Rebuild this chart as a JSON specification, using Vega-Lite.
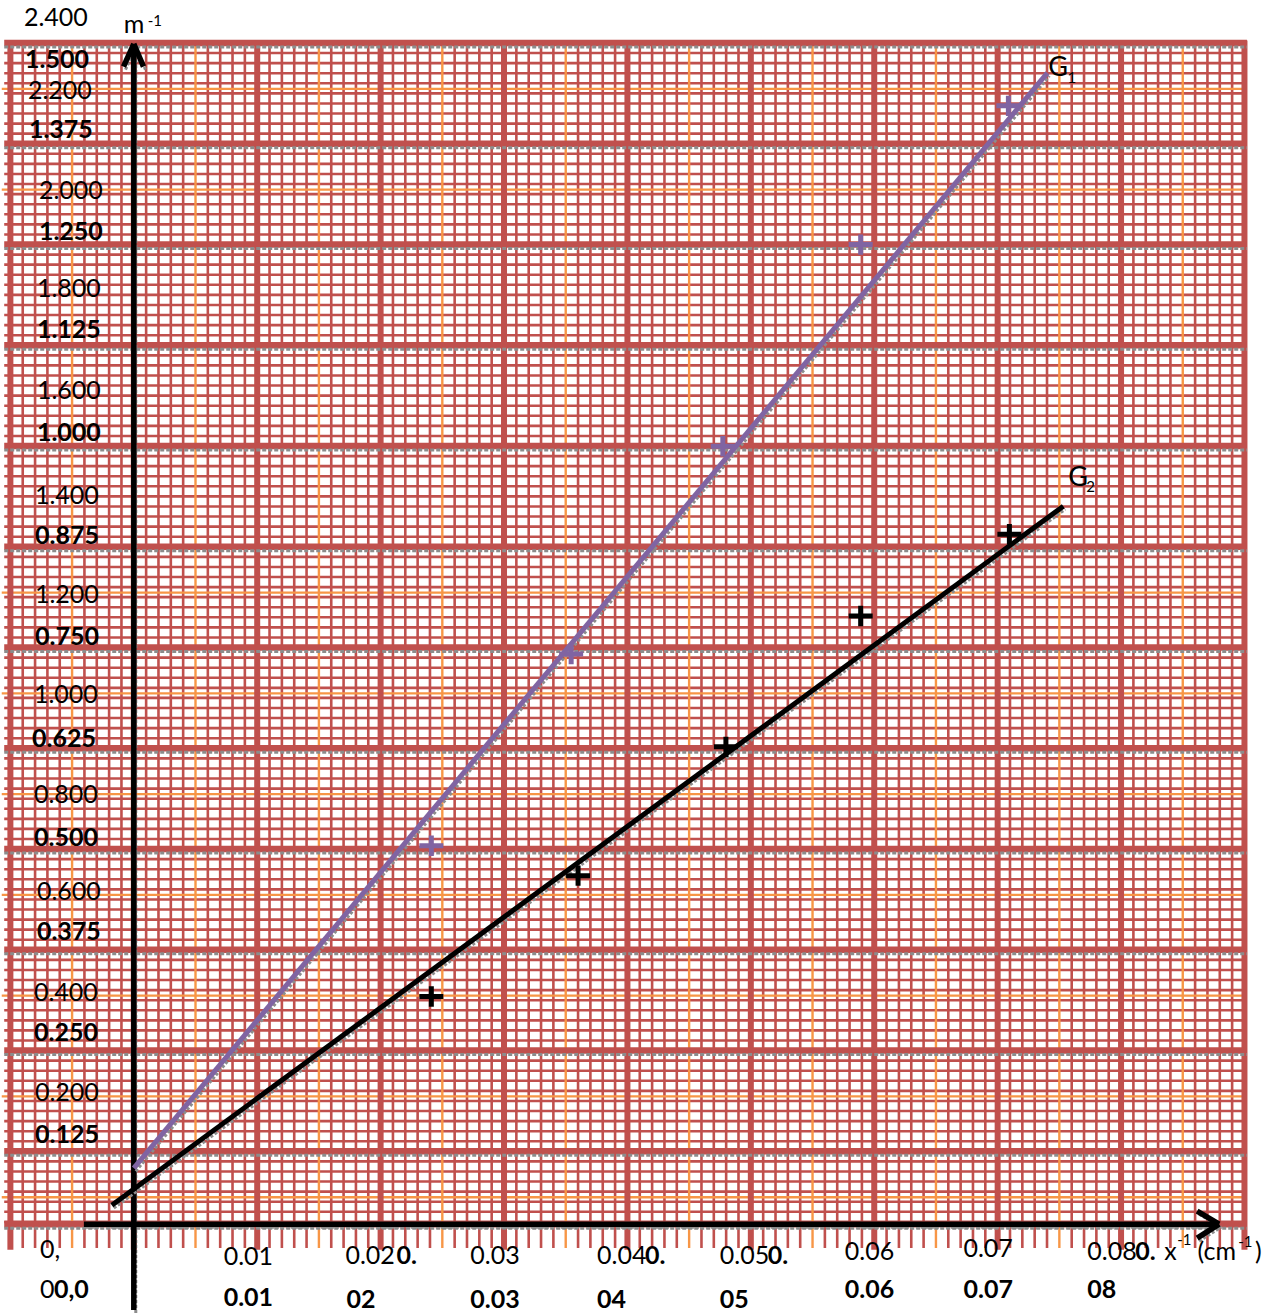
{
"$schema": "https://vega.github.io/schema/vega-lite/v6.json",
"width": 1288, "height": 1315,
"autosize": {"type": "fit", "contains": "padding"},
"padding": 0,
"background": "white",
"config": {"view": {"stroke": null}},
"datasets": {
"vf": [-0.009,-0.008,-0.007,-0.006,-0.004,-0.003,-0.002,-0.001,0.001,0.002,0.003,0.004,0.006,0.007,0.008,0.009,0.011,0.012,0.013,0.014,0.016,0.017,0.018,0.019,0.021,0.022,0.023,0.024,0.026,0.027,0.028,0.029,0.031,0.032,0.033,0.034,0.036,0.037,0.038,0.039,0.041,0.042,0.043,0.044,0.046,0.047,0.048,0.049,0.051,0.052,0.053,0.054,0.056,0.057,0.058,0.059,0.061,0.062,0.063,0.064,0.066,0.067,0.068,0.069,0.071,0.072,0.073,0.074,0.076,0.077,0.078,0.079,0.081,0.082,0.083,0.084,0.086,0.087,0.088,0.089],
"vo": [-0.005,0.005,0.015,0.025,0.035,0.045,0.055,0.065,0.075,0.085],
"vM": [-0.01,0,0.01,0.02,0.03,0.04,0.05,0.06,0.07,0.08,0.09],
"hf": [0.0375,0.05,0.0625,0.075,0.0875,0.1,0.1125,0.1375,0.15,0.1625,0.175,0.1875,0.2,0.2125,0.225,0.2375,0.2625,0.275,0.2875,0.3,0.3125,0.325,0.3375,0.35,0.3625,0.3875,0.4,0.4125,0.425,0.4375,0.45,0.4625,0.475,0.4875,0.5125,0.525,0.5375,0.55,0.5625,0.575,0.5875,0.6,0.6125,0.6375,0.65,0.6625,0.675,0.6875,0.7,0.7125,0.725,0.7375,0.7625,0.775,0.7875,0.8,0.8125,0.825,0.8375,0.85,0.8625,0.8875,0.9,0.9125,0.925,0.9375,0.95,0.9625,0.975,0.9875,1.0125,1.025,1.0375,1.05,1.0625,1.075,1.0875,1.1,1.1125,1.1375,1.15,1.1625,1.175,1.1875,1.2,1.2125,1.225,1.2375,1.2625,1.275,1.2875,1.3,1.3125,1.325,1.3375,1.35,1.3625,1.3875,1.4,1.4125,1.425,1.4375,1.45,1.4625,1.475,1.4875],
"ho": [0.06813,0.19313,0.31813,0.44313,0.56813,0.69313,0.81813,1.31813,1.44313],
"hM": [0.03468,0.125,0.25,0.375,0.5,0.625,0.75,0.875,1,1.125,1.25,1.375,1.5],
"axes": [
{"u": 0, "v": -0.0718, "u2": 0, "v2": 1.4988},
{"u": -0.000833, "v": 1.4707, "u2": 0, "v2": 1.4988},
{"u": 0.000785, "v": 1.4707, "u2": 0, "v2": 1.4988},
{"u": -0.004045, "v": 0.03468, "u2": 0.087945, "v2": 0.03468},
{"u": 0.086165, "v": 0.05079, "u2": 0.087945, "v2": 0.03468},
{"u": 0.086165, "v": 0.01734, "u2": 0.087945, "v2": 0.03468}
],
"glines": [
{"s": "G1", "u": 0.0, "v": 0.10405, "u2": 0.07403, "v2": 1.4629},
{"s": "G2", "u": -0.00178, "v": 0.05822, "u2": 0.07532, "v2": 0.92531}
],
"pts": [
{"s": "G1", "u": 0.02411, "v": 0.50415},
{"s": "G1", "u": 0.03544, "v": 0.74198},
{"s": "G1", "u": 0.04773, "v": 0.99963},
{"s": "G1", "u": 0.0589, "v": 1.24985},
{"s": "G1", "u": 0.07087, "v": 1.42203},
{"s": "G2", "u": 0.02411, "v": 0.31711},
{"s": "G2", "u": 0.036, "v": 0.46699},
{"s": "G2", "u": 0.04798, "v": 0.62678},
{"s": "G2", "u": 0.0589, "v": 0.78905},
{"s": "G2", "u": 0.07095, "v": 0.89063}
],
"tN": [
{"u": -0.0089, "v": 1.53103, "t": "2.400"},
{"u": -0.00858, "v": 1.44061, "t": "2.200"},
{"u": -0.00769, "v": 1.31674, "t": "2.000"},
{"u": -0.00785, "v": 1.19535, "t": "1.800"},
{"u": -0.00785, "v": 1.06776, "t": "1.600"},
{"u": -0.00801, "v": 0.9377, "t": "1.400"},
{"u": -0.00801, "v": 0.81507, "t": "1.200"},
{"u": -0.00809, "v": 0.69119, "t": "1.000"},
{"u": -0.00809, "v": 0.56733, "t": "0.800"},
{"u": -0.00785, "v": 0.44717, "t": "0.600"},
{"u": -0.00809, "v": 0.32083, "t": "0.400"},
{"u": -0.00801, "v": 0.19695, "t": "0.200"},
{"u": -0.00761, "v": 0.00248, "t": "0,"},
{"u": -0.00761, "v": -0.04707, "t": "0"},
{"u": 0.00728, "v": -0.00619, "t": "0.01"},
{"u": 0.01715, "v": -0.00495, "t": "0.02"},
{"u": 0.02727, "v": -0.00495, "t": "0.03"},
{"u": 0.03754, "v": -0.00495, "t": "0.04"},
{"u": 0.04749, "v": -0.00495, "t": "0.05"},
{"u": 0.05761, "v": 0, "t": "0.06"},
{"u": 0.06723, "v": 0.00372, "t": "0.07"},
{"u": 0.07727, "v": 0, "t": "0.08"},
{"u": 0.0835, "v": 0, "t": "x"},
{"u": 0.0862, "v": 0, "t": "(cm"},
{"u": 0.09086, "v": 0, "t": ")"},
{"u": -0.00081, "v": 1.52176, "t": "m"}
],
"tB": [
{"u": -0.00882, "v": 1.47901, "t": "1.500"},
{"u": -0.0085, "v": 1.3923, "t": "1.375"},
{"u": -0.00769, "v": 1.26595, "t": "1.250"},
{"u": -0.00785, "v": 1.14332, "t": "1.125"},
{"u": -0.00785, "v": 1.01573, "t": "1.000"},
{"u": -0.00801, "v": 0.88815, "t": "0.875"},
{"u": -0.00801, "v": 0.76304, "t": "0.750"},
{"u": -0.00825, "v": 0.63669, "t": "0.625"},
{"u": -0.00809, "v": 0.51406, "t": "0.500"},
{"u": -0.00785, "v": 0.39762, "t": "0.375"},
{"u": -0.00809, "v": 0.27128, "t": "0.250"},
{"u": -0.00801, "v": 0.14493, "t": "0.125"},
{"u": -0.00647, "v": -0.04707, "t": "0,0"},
{"u": 0.00728, "v": -0.05698, "t": "0.01"},
{"u": 0.02128, "v": -0.00495, "t": "0."},
{"u": 0.04143, "v": -0.00495, "t": "0."},
{"u": 0.05138, "v": -0.00495, "t": "0."},
{"u": 0.08115, "v": 0, "t": "0."},
{"u": 0.01723, "v": -0.05946, "t": "02"},
{"u": 0.02727, "v": -0.05946, "t": "0.03"},
{"u": 0.03754, "v": -0.05946, "t": "04"},
{"u": 0.04749, "v": -0.05946, "t": "05"},
{"u": 0.05761, "v": -0.04707, "t": "0.06"},
{"u": 0.06723, "v": -0.04707, "t": "0.07"},
{"u": 0.07727, "v": -0.04707, "t": "08"}
],
"tS": [
{"u": 0.00113, "v": 1.52732, "t": "-1"},
{"u": 0.08455, "v": 0.01486, "t": "-1"},
{"u": 0.0895, "v": 0.01239, "t": "-1"},
{"u": 0.07565, "v": 1.45671, "t": "1"},
{"u": 0.07718, "v": 0.94884, "t": "2"}
],
"tG": [
{"u": 0.07411, "v": 1.4691, "t": "G"},
{"u": 0.07573, "v": 0.96, "t": "G"}
]
},
"layer": [
{"data": {"name": "vf"}, "mark": {"type": "rule", "stroke": "#c0504d", "strokeWidth": 2.6},
 "encoding": {"x": {"field": "data", "type": "quantitative", "scale": {"domain": [-0.0106796, 0.0935275], "nice": false, "zero": false}, "axis": null},
  "y": {"datum": 1.5, "type": "quantitative", "scale": {"domain": [-0.07556, 1.553326], "nice": false, "zero": false}, "axis": null}, "y2": {"datum": 0.005}}},
{"data": {"name": "hf"}, "mark": {"type": "rule", "stroke": "#c0504d", "strokeWidth": 2.6},
 "encoding": {"y": {"field": "data", "type": "quantitative", "scale": {"domain": [-0.07556, 1.553326], "nice": false, "zero": false}, "axis": null},
  "x": {"datum": -0.0105, "type": "quantitative", "scale": {"domain": [-0.0106796, 0.0935275], "nice": false, "zero": false}, "axis": null}, "x2": {"datum": 0.09}}},
{"data": {"name": "vo"}, "mark": {"type": "rule", "stroke": "#f79646", "strokeWidth": 2.4},
 "encoding": {"x": {"field": "data", "type": "quantitative", "scale": {"domain": [-0.0106796, 0.0935275], "nice": false, "zero": false}, "axis": null},
  "y": {"datum": 1.5, "type": "quantitative", "scale": {"domain": [-0.07556, 1.553326], "nice": false, "zero": false}, "axis": null}, "y2": {"datum": 0.005}}},
{"data": {"name": "ho"}, "mark": {"type": "rule", "stroke": "#f79646", "strokeWidth": 2.4},
 "encoding": {"y": {"field": "data", "type": "quantitative", "scale": {"domain": [-0.07556, 1.553326], "nice": false, "zero": false}, "axis": null},
  "x": {"datum": -0.0107, "type": "quantitative", "scale": {"domain": [-0.0106796, 0.0935275], "nice": false, "zero": false}, "axis": null}, "x2": {"datum": 0.0899}}},
{"data": {"name": "vM"}, "mark": {"type": "rule", "stroke": "#c0504d", "strokeWidth": 6},
 "encoding": {"x": {"field": "data", "type": "quantitative", "scale": {"domain": [-0.0106796, 0.0935275], "nice": false, "zero": false}, "axis": null},
  "y": {"datum": 1.503, "type": "quantitative", "scale": {"domain": [-0.07556, 1.553326], "nice": false, "zero": false}, "axis": null}, "y2": {"datum": 0.003}}},
{"data": {"name": "hM"}, "mark": {"type": "rule", "stroke": "#c0504d", "strokeWidth": 6.5},
 "encoding": {"y": {"field": "data", "type": "quantitative", "scale": {"domain": [-0.07556, 1.553326], "nice": false, "zero": false}, "axis": null},
  "x": {"datum": -0.0105, "type": "quantitative", "scale": {"domain": [-0.0106796, 0.0935275], "nice": false, "zero": false}, "axis": null}, "x2": {"datum": 0.0902}}},
{"data": {"name": "hM"}, "mark": {"type": "rule", "stroke": "#8c8c8c", "strokeWidth": 3, "strokeDash": [4, 2], "yOffset": 4},
 "encoding": {"y": {"field": "data", "type": "quantitative", "scale": {"domain": [-0.07556, 1.553326], "nice": false, "zero": false}, "axis": null},
  "x": {"datum": -0.0105, "type": "quantitative", "scale": {"domain": [-0.0106796, 0.0935275], "nice": false, "zero": false}, "axis": null}, "x2": {"datum": 0.0902}}},
{"data": {"name": "axes"}, "mark": {"type": "rule", "stroke": "#8c8c8c", "strokeWidth": 3, "strokeDash": [3, 2], "xOffset": 2, "x2Offset": 2, "yOffset": 3, "y2Offset": 3},
 "encoding": {"x": {"field": "u", "type": "quantitative", "scale": {"domain": [-0.0106796, 0.0935275], "nice": false, "zero": false}, "axis": null},
  "y": {"field": "v", "type": "quantitative", "scale": {"domain": [-0.07556, 1.553326], "nice": false, "zero": false}, "axis": null},
  "x2": {"field": "u2"}, "y2": {"field": "v2"}}},
{"data": {"name": "axes"}, "mark": {"type": "rule", "stroke": "#000000", "strokeWidth": 5.5},
 "encoding": {"x": {"field": "u", "type": "quantitative", "scale": {"domain": [-0.0106796, 0.0935275], "nice": false, "zero": false}, "axis": null},
  "y": {"field": "v", "type": "quantitative", "scale": {"domain": [-0.07556, 1.553326], "nice": false, "zero": false}, "axis": null},
  "x2": {"field": "u2"}, "y2": {"field": "v2"}}},
{"data": {"name": "glines"}, "mark": {"type": "rule", "stroke": "#8c8c8c", "strokeWidth": 3, "strokeDash": [3, 2], "xOffset": 2, "x2Offset": 2, "yOffset": 3, "y2Offset": 3},
 "encoding": {"x": {"field": "u", "type": "quantitative", "scale": {"domain": [-0.0106796, 0.0935275], "nice": false, "zero": false}, "axis": null},
  "y": {"field": "v", "type": "quantitative", "scale": {"domain": [-0.07556, 1.553326], "nice": false, "zero": false}, "axis": null},
  "x2": {"field": "u2"}, "y2": {"field": "v2"}}},
{"data": {"name": "glines"}, "mark": {"type": "rule", "strokeWidth": 5},
 "encoding": {"x": {"field": "u", "type": "quantitative", "scale": {"domain": [-0.0106796, 0.0935275], "nice": false, "zero": false}, "axis": null},
  "y": {"field": "v", "type": "quantitative", "scale": {"domain": [-0.07556, 1.553326], "nice": false, "zero": false}, "axis": null},
  "x2": {"field": "u2"}, "y2": {"field": "v2"},
  "color": {"field": "s", "type": "nominal", "scale": {"domain": ["G1", "G2"], "range": ["#8064a2", "#000000"]}, "legend": null}}},
{"data": {"name": "pts"}, "mark": {"type": "point", "shape": "M-1,0H1M0,-0.85V0.85", "filled": false, "size": 576, "strokeWidth": 5, "opacity": 1},
 "encoding": {"x": {"field": "u", "type": "quantitative", "scale": {"domain": [-0.0106796, 0.0935275], "nice": false, "zero": false}, "axis": null},
  "y": {"field": "v", "type": "quantitative", "scale": {"domain": [-0.07556, 1.553326], "nice": false, "zero": false}, "axis": null},
  "color": {"field": "s", "type": "nominal", "scale": {"domain": ["G1", "G2"], "range": ["#8064a2", "#000000"]}, "legend": null}}},
{"data": {"name": "tN"}, "mark": {"type": "text", "font": "Lato", "fontSize": 25, "align": "left", "baseline": "middle", "color": "#000000"},
 "encoding": {"x": {"field": "u", "type": "quantitative", "scale": {"domain": [-0.0106796, 0.0935275], "nice": false, "zero": false}, "axis": null},
  "y": {"field": "v", "type": "quantitative", "scale": {"domain": [-0.07556, 1.553326], "nice": false, "zero": false}, "axis": null},
  "text": {"field": "t", "type": "nominal"}}},
{"data": {"name": "tB"}, "mark": {"type": "text", "font": "Lato", "fontSize": 25, "fontWeight": "bold", "align": "left", "baseline": "middle", "color": "#000000"},
 "encoding": {"x": {"field": "u", "type": "quantitative", "scale": {"domain": [-0.0106796, 0.0935275], "nice": false, "zero": false}, "axis": null},
  "y": {"field": "v", "type": "quantitative", "scale": {"domain": [-0.07556, 1.553326], "nice": false, "zero": false}, "axis": null},
  "text": {"field": "t", "type": "nominal"}}},
{"data": {"name": "tS"}, "mark": {"type": "text", "font": "Lato", "fontSize": 15, "align": "left", "baseline": "middle", "color": "#000000"},
 "encoding": {"x": {"field": "u", "type": "quantitative", "scale": {"domain": [-0.0106796, 0.0935275], "nice": false, "zero": false}, "axis": null},
  "y": {"field": "v", "type": "quantitative", "scale": {"domain": [-0.07556, 1.553326], "nice": false, "zero": false}, "axis": null},
  "text": {"field": "t", "type": "nominal"}}},
{"data": {"name": "tG"}, "mark": {"type": "text", "font": "Lato", "fontSize": 27, "align": "left", "baseline": "middle", "color": "#000000"},
 "encoding": {"x": {"field": "u", "type": "quantitative", "scale": {"domain": [-0.0106796, 0.0935275], "nice": false, "zero": false}, "axis": null},
  "y": {"field": "v", "type": "quantitative", "scale": {"domain": [-0.07556, 1.553326], "nice": false, "zero": false}, "axis": null},
  "text": {"field": "t", "type": "nominal"}}}
]
}
